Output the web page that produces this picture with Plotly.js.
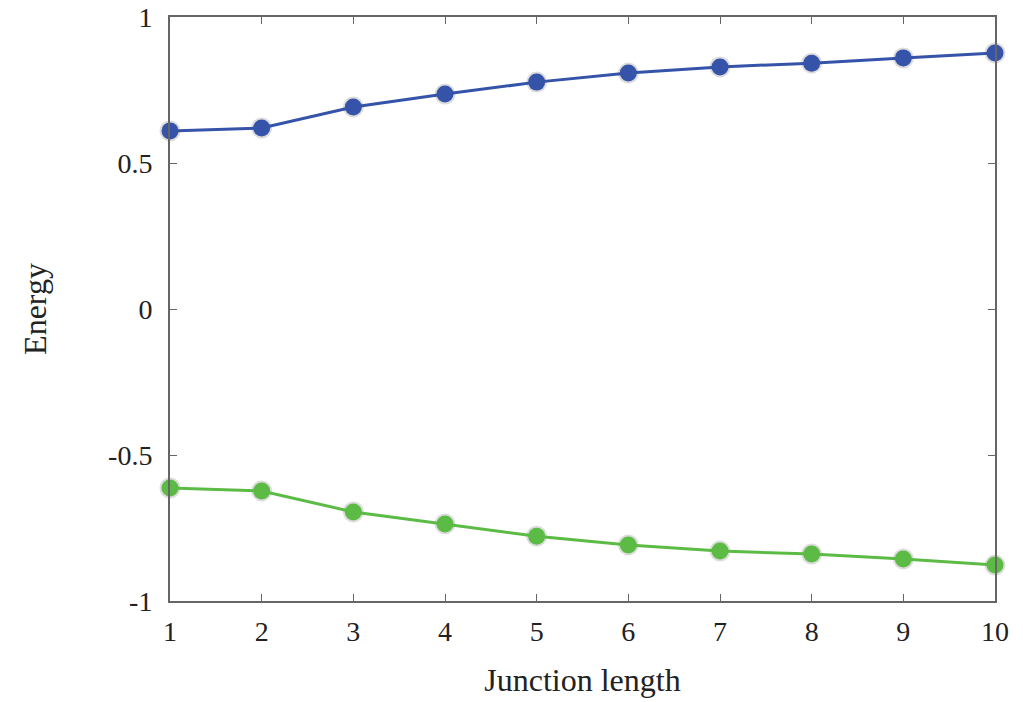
<!DOCTYPE html>
<html>
<head>
<meta charset="utf-8">
<script src="https://cdn.plot.ly/plotly-3.0.1.min.js"></script>
<style>html,body{margin:0;padding:0;background:#fff;}#chart{width:1023px;height:702px;}</style>
</head>
<body>
<div id="chart"></div>
<script>
const junctionLength = [1, 2, 3, 4, 5, 6, 7, 8, 9, 10];
const upperEnergy = [0.610, 0.620, 0.692, 0.736, 0.777, 0.808, 0.829, 0.842, 0.860, 0.877];
const lowerEnergy = [-0.613, -0.623, -0.695, -0.736, -0.778, -0.808, -0.829, -0.839, -0.856, -0.877];
const yTickVals = [-1, -0.5, 0, 0.5, 1];
const yTickText = ['-1', '-0.5', '0', '0.5', '1'];

const FONT = 'Liberation Serif';

const shadow = (y) => ({
  x: junctionLength, y: y, mode: 'markers', showlegend: false, hoverinfo: 'skip',
  marker: {size: 21, color: 'rgba(40,40,40,0.16)'}, cliponaxis: false
});
const series = (y, color) => ({
  x: junctionLength, y: y, mode: 'lines+markers', showlegend: false,
  line: {color: color, width: 3},
  marker: {size: 17, color: color}, cliponaxis: false
});

const data = [
  shadow(upperEnergy), shadow(lowerEnergy),
  series(upperEnergy, '#3553a8'),
  series(lowerEnergy, '#5cbb45')
];

const axisCommon = {
  showgrid: false, zeroline: false, showline: true, linecolor: '#666', linewidth: 2,
  mirror: 'ticks', ticks: 'inside', ticklen: 7, tickcolor: '#666', tickwidth: 1,
  tickfont: {family: FONT, size: 28, color: '#222'}
};

const layout = {
  width: 1023, height: 702,
  margin: {l: 170, r: 28, t: 17, b: 101},
  paper_bgcolor: '#fff', plot_bgcolor: '#fff',
  xaxis: Object.assign({}, axisCommon, {
    range: [1, 10], tickvals: junctionLength, ticktext: junctionLength.map(String),
    ticklabelstandoff: 4,
    title: {text: 'Junction length', font: {family: FONT, size: 32, color: '#222'}, standoff: 23}
  }),
  yaxis: Object.assign({}, axisCommon, {
    range: [-1, 1], tickvals: yTickVals, ticktext: yTickText,
    ticklabelstandoff: 10,
    title: {text: 'Energy', font: {family: FONT, size: 32, color: '#222'}, standoff: 52}
  })
};

Plotly.newPlot('chart', data, layout, {displayModeBar: false, staticPlot: true});
</script>
</body>
</html>
